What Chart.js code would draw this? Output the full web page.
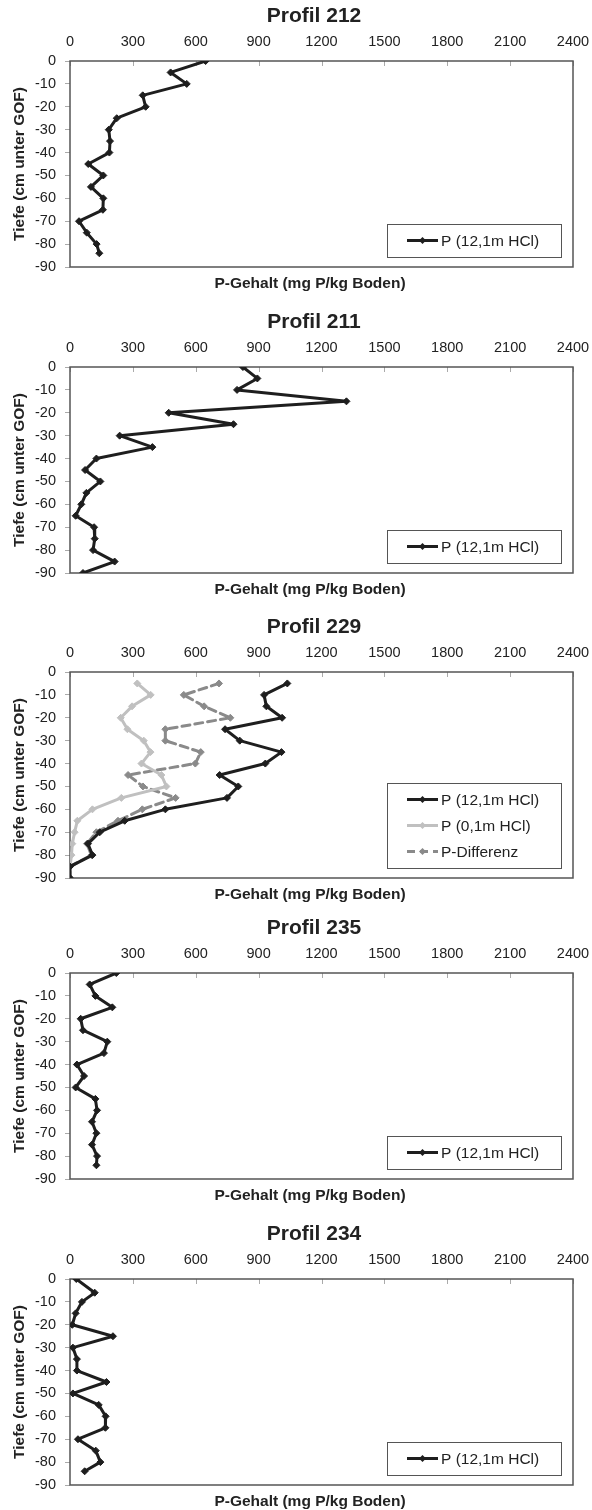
<!DOCTYPE html>
<html>
<head>
<meta charset="utf-8">
<script src="https://cdn.jsdelivr.net/npm/chart.js@4.4.1/dist/chart.umd.min.js"></script>
<style>
  html, body { margin: 0; padding: 0; background: #fff; }
  body { width: 592px; height: 1510px; overflow: hidden; position: relative; }
  .panel { position: absolute; left: 0; width: 592px; height: 300px; }
</style>
</head>
<body>
<div class="panel" style="top:0px"><canvas id="c212" width="592" height="300"></canvas></div>
<div class="panel" style="top:306px"><canvas id="c211" width="592" height="300"></canvas></div>
<div class="panel" style="top:611px"><canvas id="c229" width="592" height="300"></canvas></div>
<div class="panel" style="top:912px"><canvas id="c235" width="592" height="300"></canvas></div>
<div class="panel" style="top:1218px"><canvas id="c234" width="592" height="300"></canvas></div>
<script>
// Depth (cm unter GOF) and P content (mg P/kg Boden)
const depth212 = [0, -5, -10, -15, -20, -25, -30, -35, -40, -45, -50, -55, -60, -65, -70, -75, -80, -84];
const p212 = [647, 480, 557, 347, 361, 223, 185, 191, 188, 87, 159, 100, 159, 157, 43, 80, 127, 140];

const depth211 = [0, -5, -10, -15, -20, -25, -30, -35, -40, -45, -50, -55, -60, -65, -70, -75, -80, -85, -90];
const p211 = [825, 894, 797, 1319, 471, 780, 237, 393, 126, 72, 145, 78, 54, 27, 115, 118, 110, 213, 62];

const depth229 = [-5, -10, -15, -20, -25, -30, -35, -40, -45, -50, -55, -60, -65, -70, -75, -80, -85, -90];
const p229 = [1037, 926, 937, 1012, 740, 810, 1009, 932, 714, 803, 749, 455, 261, 142, 86, 107, 0, 0];
const p229weak = [321, 385, 296, 242, 274, 352, 384, 341, 436, 460, 245, 107, 35, 22, 11, 7, 0, 0];
const p229diff = [711, 543, 640, 765, 455, 455, 624, 598, 277, 348, 504, 345, 229, 126, 81, 102, 0, 0];

const depth235 = [0, -5, -10, -15, -20, -25, -30, -35, -40, -45, -50, -55, -60, -65, -70, -75, -80, -84];
const p235 = [221, 94, 121, 202, 51, 62, 178, 162, 33, 67, 27, 121, 129, 105, 126, 105, 129, 126];

const depth234 = [0, -6, -10, -15, -20, -25, -30, -35, -40, -45, -50, -55, -60, -65, -70, -75, -80, -84];
const p234 = [30, 118, 57, 27, 11, 205, 14, 33, 33, 174, 14, 137, 170, 169, 38, 123, 145, 70];

const xTicksMax = 2400;
const xStep = 300;
const yMin = -90;
const yStep = 10;

const FONT = '"Liberation Sans", Arial, Helvetica, sans-serif';
const TEXT = '#222';
const BLACK = '#1e1e1e';
const LIGHT = '#c0c0c0';
const MID = '#8a8a8a';

function points(depths, values) {
    return depths.map((d, i) => ({ x: values[i], y: d }));
}

function series(label, depths, values, color, dash) {
    return {
        label: label,
        data: points(depths, values),
        showLine: true,
        borderColor: color,
        backgroundColor: color,
        borderWidth: 3,
        borderDash: dash || [],
        borderJoinStyle: 'round',
        borderCapStyle: 'round',
        pointStyle: 'rectRot',
        pointRadius: 3.5,
        pointBorderWidth: 1,
        pointBorderColor: color,
        pointBackgroundColor: color
    };
}

// Frame, inward ticks, title, bottom label and boxed legend
const panelDecor = {
    id: 'panelDecor',
    beforeDatasetsDraw(chart) {
        const { ctx, chartArea: a } = chart;
        const xs = chart.scales.x;
        ctx.save();
        ctx.strokeStyle = '#aaa';
        ctx.lineWidth = 1;
        xs.ticks.forEach(t => {
            const px = Math.round(xs.getPixelForValue(t.value)) + 0.5;
            ctx.beginPath();
            ctx.moveTo(px, a.top);
            ctx.lineTo(px, a.top + 5);
            ctx.stroke();
        });
        ctx.strokeStyle = '#555';
        ctx.lineWidth = 1.5;
        ctx.strokeRect(a.left, a.top, a.right - a.left, a.bottom - a.top);
        ctx.restore();
    },
    afterDraw(chart, args, opts) {
        const { ctx, chartArea: a } = chart;
        const cx = (a.left + a.right) / 2;
        ctx.save();
        ctx.fillStyle = TEXT;
        ctx.textAlign = 'center';
        ctx.textBaseline = 'middle';
        ctx.font = 'bold 21px ' + FONT;
        ctx.fillText(opts.title, cx - 7.5, a.top - 44.5);
        ctx.font = 'bold 15.5px ' + FONT;
        ctx.fillText('P-Gehalt (mg P/kg Boden)', cx - 11.5, a.bottom + 16.5);

        // legend box
        const sets = chart.data.datasets;
        const boxW = 174;
        const boxH = 33 + 26 * (sets.length - 1);
        const bx = a.right - 12 - boxW;
        const by = a.bottom - 10 - boxH;
        ctx.fillStyle = '#fff';
        ctx.fillRect(bx, by, boxW, boxH);
        ctx.strokeStyle = '#555';
        ctx.lineWidth = 1;
        ctx.strokeRect(Math.round(bx) + 0.5, Math.round(by) + 0.5, boxW, boxH);
        ctx.font = '15.5px ' + FONT;
        ctx.textAlign = 'left';
        sets.forEach((ds, i) => {
            const ry = by + 16.5 + 26 * i;
            const lx0 = bx + 20;
            const lx1 = bx + 51;
            ctx.strokeStyle = ds.borderColor;
            ctx.lineWidth = 3;
            ctx.setLineDash(ds.borderDash);
            ctx.beginPath();
            ctx.moveTo(lx0, ry);
            ctx.lineTo(lx1, ry);
            ctx.stroke();
            ctx.setLineDash([]);
            const mx = (lx0 + lx1) / 2;
            ctx.fillStyle = ds.borderColor;
            ctx.beginPath();
            ctx.moveTo(mx, ry - 3.5);
            ctx.lineTo(mx + 3.5, ry);
            ctx.lineTo(mx, ry + 3.5);
            ctx.lineTo(mx - 3.5, ry);
            ctx.closePath();
            ctx.fill();
            ctx.fillStyle = TEXT;
            ctx.fillText(ds.label, bx + 54, ry + 1);
        });
        ctx.restore();
    }
};

function makeChart(id, title, datasets) {
    return new Chart(document.getElementById(id), {
        type: 'scatter',
        data: { datasets: datasets },
        plugins: [panelDecor],
        options: {
            responsive: false,
            animation: false,
            layout: { padding: { left: 0, right: 19, top: 0, bottom: 33 } },
            scales: {
                x: {
                    type: 'linear',
                    position: 'top',
                    min: 0,
                    max: xTicksMax,
                    ticks: {
                        stepSize: xStep,
                        color: TEXT,
                        padding: 10,
                        font: { family: FONT, size: 14.5 },
                        callback: v => String(v)
                    },
                    grid: { display: false, drawTicks: false },
                    border: { display: false },
                    afterFit: s => {
                        s.height = 61;
                        s.paddingLeft = 0;
                        s.paddingRight = 0;
                    }
                },
                y: {
                    type: 'linear',
                    position: 'left',
                    min: yMin,
                    max: 0,
                    ticks: {
                        stepSize: yStep,
                        color: TEXT,
                        padding: 9,
                        font: { family: FONT, size: 14.5 },
                        callback: v => String(v)
                    },
                    grid: { drawOnChartArea: false, drawTicks: true, tickLength: 5, color: '#aaa' },
                    border: { display: false },
                    title: {
                        display: true,
                        text: 'Tiefe (cm unter GOF)',
                        color: TEXT,
                        padding: { top: 10, bottom: 0 },
                        font: { family: FONT, size: 15.5, weight: 'bold' }
                    },
                    afterFit: s => { s.width = 70; }
                }
            },
            plugins: {
                legend: { display: false },
                tooltip: { enabled: false },
                panelDecor: { title: title }
            }
        }
    });
}

makeChart('c212', 'Profil 212', [series('P (12,1m HCl)', depth212, p212, BLACK)]);
makeChart('c211', 'Profil 211', [series('P (12,1m HCl)', depth211, p211, BLACK)]);
makeChart('c229', 'Profil 229', [
    series('P (12,1m HCl)', depth229, p229, BLACK),
    series('P (0,1m HCl)', depth229, p229weak, LIGHT),
    series('P-Differenz', depth229, p229diff, MID, [8, 5])
]);
makeChart('c235', 'Profil 235', [series('P (12,1m HCl)', depth235, p235, BLACK)]);
makeChart('c234', 'Profil 234', [series('P (12,1m HCl)', depth234, p234, BLACK)]);
</script>
</body>
</html>
